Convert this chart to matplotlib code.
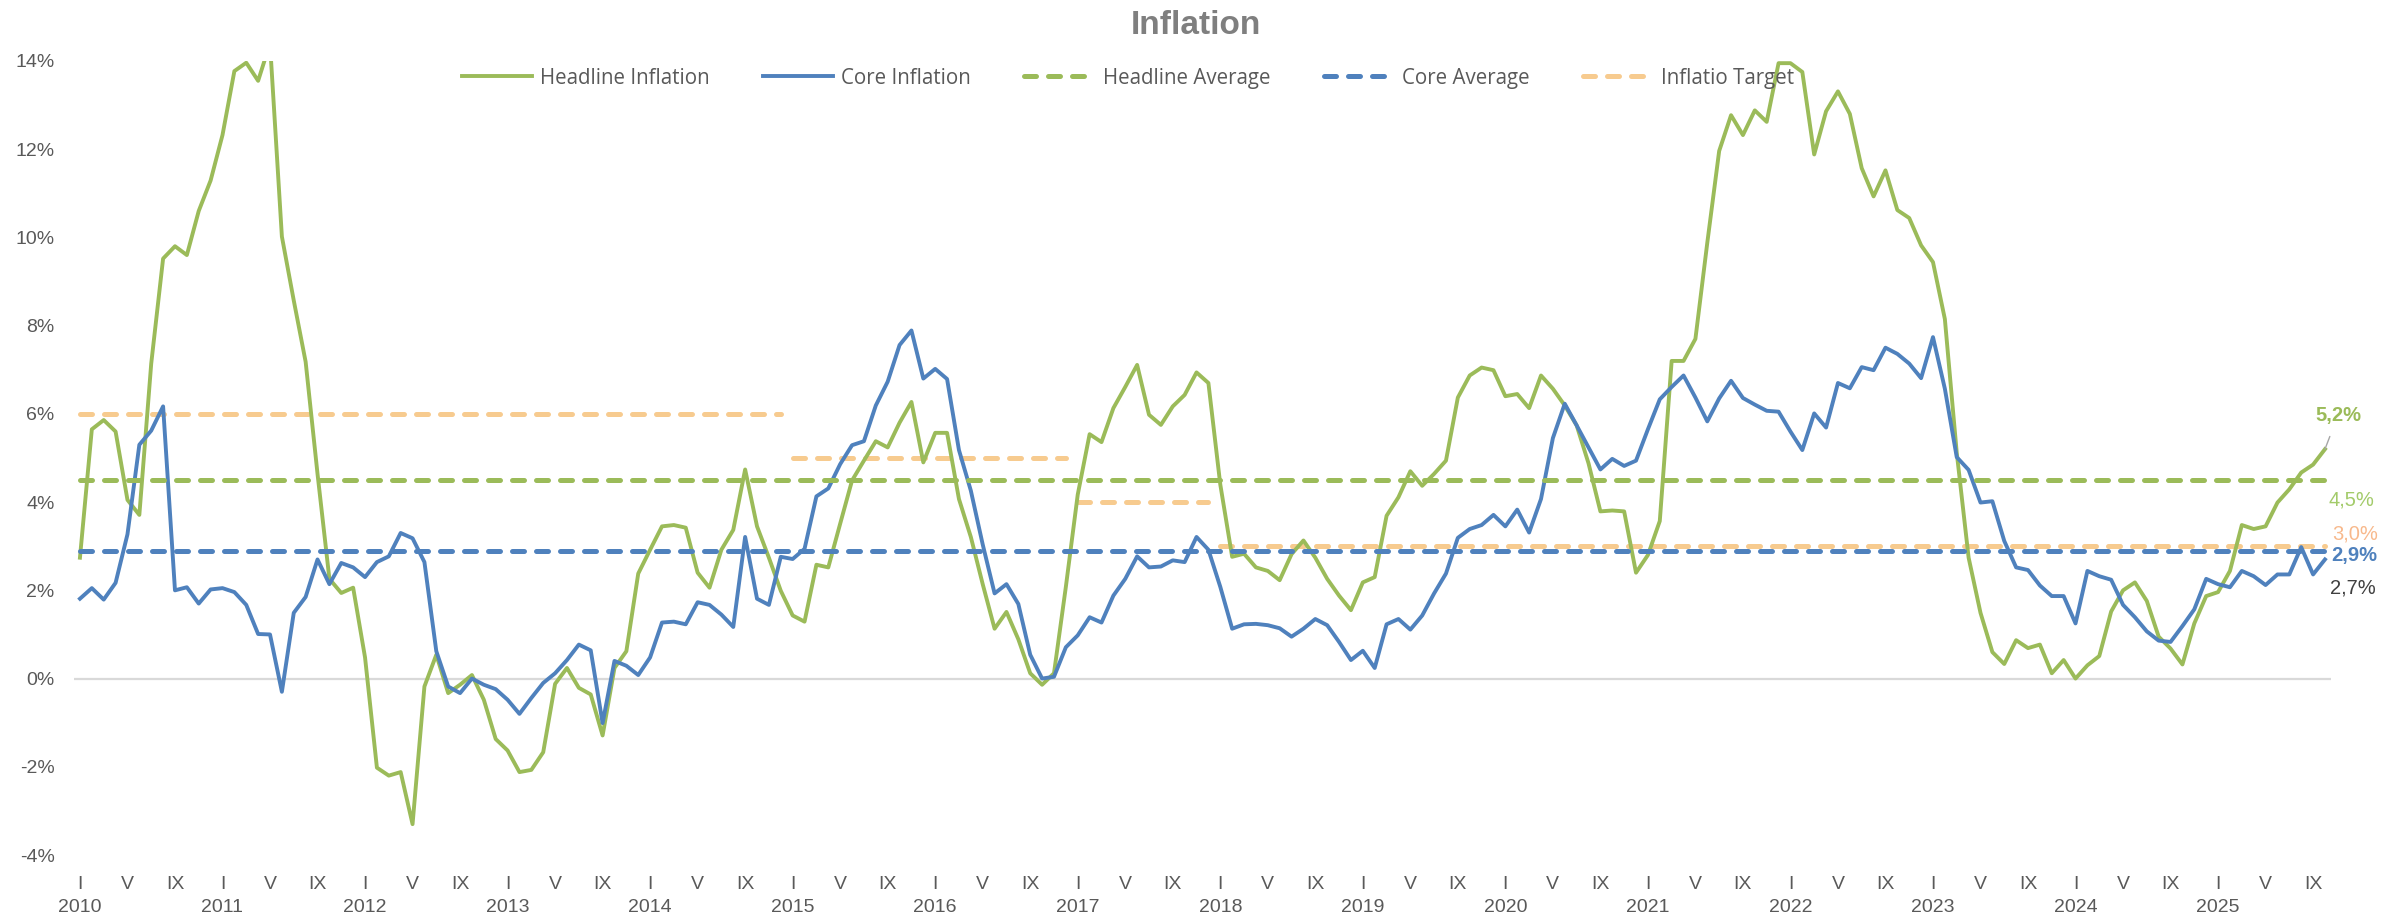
import numpy as np
import matplotlib.pyplot as plt

# monthly values, Jan 2010 .. Oct 2025 (%)
headline = [
    2.74, 5.65, 5.86, 5.60, 4.05, 3.71, 7.14, 9.52, 9.80, 9.60, 10.60, 11.29,   # 2010
    12.32, 13.77, 13.96, 13.55, 14.40, 10.02, 8.57, 7.18, 4.64, 2.26, 1.94, 2.06,  # 2011
    0.48, -2.02, -2.20, -2.12, -3.30, -0.18, 0.54, -0.33, -0.14, 0.08, -0.48, -1.37,  # 2012
    -1.63, -2.12, -2.07, -1.67, -0.12, 0.24, -0.21, -0.36, -1.29, 0.24, 0.62, 2.38,  # 2013
    2.92, 3.45, 3.48, 3.42, 2.40, 2.06, 2.92, 3.37, 4.74, 3.45, 2.74, 1.99,      # 2014
    1.43, 1.29, 2.58, 2.52, 3.51, 4.49, 4.94, 5.38, 5.24, 5.80, 6.27, 4.90,      # 2015
    5.57, 5.57, 4.07, 3.21, 2.14, 1.13, 1.51, 0.89, 0.12, -0.14, 0.12, 2.08,     # 2016
    4.17, 5.54, 5.36, 6.13, 6.61, 7.11, 5.98, 5.75, 6.17, 6.43, 6.94, 6.70,      # 2017
    4.40, 2.76, 2.83, 2.52, 2.44, 2.23, 2.82, 3.13, 2.74, 2.26, 1.88, 1.55,      # 2018
    2.18, 2.30, 3.69, 4.11, 4.70, 4.37, 4.64, 4.94, 6.37, 6.87, 7.05, 6.99,      # 2019
    6.40, 6.45, 6.13, 6.87, 6.57, 6.19, 5.74, 4.88, 3.79, 3.81, 3.79, 2.40,      # 2020
    2.80, 3.57, 7.20, 7.20, 7.70, 9.88, 11.96, 12.77, 12.32, 12.88, 12.62, 13.95,  # 2021
    13.95, 13.75, 11.88, 12.86, 13.31, 12.80, 11.57, 10.93, 11.52, 10.62, 10.44, 9.82,  # 2022
    9.44, 8.15, 5.12, 2.74, 1.49, 0.60, 0.33, 0.87, 0.69, 0.77, 0.12, 0.42,      # 2023
    0.00, 0.30, 0.51, 1.52, 2.00, 2.18, 1.76, 0.95, 0.68, 0.32, 1.25, 1.87,      # 2024
    1.96, 2.44, 3.48, 3.39, 3.45, 3.99, 4.29, 4.67, 4.85, 5.20,                  # 2025
]
core = [
    1.81, 2.05, 1.79, 2.17, 3.27, 5.30, 5.62, 6.17, 2.00, 2.07, 1.70, 2.02,      # 2010
    2.05, 1.96, 1.67, 1.01, 1.00, -0.30, 1.49, 1.85, 2.70, 2.14, 2.62, 2.52,     # 2011
    2.30, 2.64, 2.77, 3.30, 3.18, 2.64, 0.62, -0.18, -0.33, 0.00, -0.14, -0.24,  # 2012
    -0.48, -0.80, -0.44, -0.10, 0.12, 0.42, 0.77, 0.64, -1.01, 0.40, 0.29, 0.08,  # 2013
    0.48, 1.27, 1.29, 1.23, 1.73, 1.67, 1.45, 1.17, 3.21, 1.81, 1.67, 2.76,      # 2014
    2.71, 2.94, 4.13, 4.31, 4.86, 5.29, 5.38, 6.19, 6.73, 7.56, 7.89, 6.80,      # 2015
    7.02, 6.79, 5.18, 4.26, 3.04, 1.93, 2.14, 1.69, 0.54, 0.00, 0.04, 0.71,      # 2016
    0.98, 1.39, 1.27, 1.88, 2.26, 2.77, 2.52, 2.54, 2.68, 2.64, 3.21, 2.92,      # 2017
    2.08, 1.13, 1.23, 1.24, 1.21, 1.14, 0.95, 1.13, 1.35, 1.21, 0.83, 0.42,      # 2018
    0.63, 0.24, 1.23, 1.35, 1.11, 1.43, 1.93, 2.38, 3.19, 3.39, 3.48, 3.71,      # 2019
    3.45, 3.83, 3.31, 4.07, 5.45, 6.23, 5.74, 5.24, 4.74, 4.98, 4.82, 4.94,      # 2020
    5.65, 6.33, 6.61, 6.87, 6.37, 5.83, 6.35, 6.75, 6.36, 6.21, 6.07, 6.05,      # 2021
    5.60, 5.18, 6.01, 5.69, 6.70, 6.58, 7.06, 6.99, 7.50, 7.36, 7.14, 6.81,      # 2022
    7.74, 6.57, 5.02, 4.73, 3.99, 4.02, 3.12, 2.52, 2.46, 2.11, 1.87, 1.87,      # 2023
    1.25, 2.44, 2.32, 2.24, 1.67, 1.39, 1.07, 0.86, 0.83, 1.19, 1.57, 2.26,      # 2024
    2.14, 2.07, 2.44, 2.32, 2.12, 2.36, 2.36, 2.98, 2.36, 2.70,                  # 2025
]
years = list(range(2010, 2026))
target_by_year = [6, 6, 6, 6, 6, 5, 5, 4, 3, 3, 3, 3, 3, 3, 3, 3]
headline_avg = 4.5
core_avg = 2.9
month_marks = {0: "I", 4: "V", 8: "IX"}

GREEN = "#9BBB59"
BLUE = "#4F81BD"
ORANGE = "#F7CB8F"
GREY = "#595959"

n = len(headline)
x = np.arange(n)

fig = plt.figure(figsize=(24.03, 9.18), dpi=100)
ax = fig.add_axes([0.0308, 0.0686, 0.9392, 0.865])

ax.axhline(0, color="#D9D9D9", lw=1.6, zorder=1)

h1, = ax.plot(x, headline, color=GREEN, lw=2.8, label="Headline Inflation", zorder=3)
h2, = ax.plot(x, core, color=BLUE, lw=2.8, label="Core Inflation", zorder=3)

dash = dict(lw=3.6, dashes=(2.4, 2.4), dash_capstyle="round")
h3, = ax.plot([0, n - 1], [headline_avg, headline_avg], color=GREEN, label="Headline Average", zorder=4, **dash)

# target regimes, one segment each
monthly_target = np.repeat(target_by_year, 12)[:n]
start = 0
h5 = None
for i in range(1, n + 1):
    if i == n or monthly_target[i] != monthly_target[start]:
        ln, = ax.plot([start, i - 1], [monthly_target[start]] * 2, color=ORANGE,
                      label="Inflatio Target" if h5 is None else None, zorder=2, **dash)
        if h5 is None:
            h5 = ln
        start = i

h4, = ax.plot([0, n - 1], [core_avg, core_avg], color=BLUE, label="Core Average", zorder=4, **dash)

ax.set_xlim(-0.5, n - 0.5)
ax.set_ylim(-4, 14)
yt = list(range(-4, 15, 2))
ax.set_yticks(yt)
ax.set_yticklabels([f"{v}%" for v in yt])

# two-level category axis: roman months, then years
mpos, mlab = [], []
for k, yr in enumerate(years):
    for m, r in month_marks.items():
        p = k * 12 + m
        if p < n:
            mpos.append(p)
            mlab.append(r)
ax.set_xticks(mpos)
ax.set_xticklabels(mlab)
ax.set_xticks([k * 12 for k in range(len(years))], minor=True)
ax.set_xticklabels([str(y) for y in years], minor=True)
ax.xaxis.remove_overlapping_locs = False

for s in ax.spines.values():
    s.set_visible(False)
ax.tick_params(axis="both", which="both", length=0, colors=GREY, labelsize=14)
ax.tick_params(axis="x", which="major", pad=15)
ax.tick_params(axis="x", which="minor", pad=32)
ax.tick_params(axis="y", pad=14)
for t in ax.get_xticklabels(which="both") + ax.get_yticklabels():
    t.set_fontfamily(["Liberation Sans", "DejaVu Sans"])

fig.text(0.4977, 0.972, "Inflation", ha="center", va="center", fontsize=24,
         fontweight="bold", color="#7F7F7F", family=["Liberation Sans", "DejaVu Sans"])

fig.legend(handles=[h1, h2, h3, h4, h5], loc="center", bbox_to_anchor=(0.4694, 0.915),
           ncol=5, frameon=False, handlelength=3.4, handletextpad=0.4, columnspacing=2.6,
           prop={"family": ["Open Sans", "DejaVu Sans"], "size": 14.8}, labelcolor=GREY)

last = n - 1
lab_font = dict(fontsize=14.5, family=["Liberation Sans", "DejaVu Sans"], ha="center", va="center")
ax.annotate(f"{headline[-1]:.1f}%".replace(".", ","), xy=(last, headline[-1]), xytext=(9.4, 24.5),
            textcoords="offset points", color=GREEN, fontweight="bold",
            arrowprops=dict(arrowstyle="-", color="#A6A6A6", lw=1, shrinkA=7, shrinkB=0), **lab_font)
ax.annotate(f"{headline_avg:.1f}%".replace(".", ","), xy=(last, headline_avg), xytext=(19.4, -14.4),
            textcoords="offset points", color="#A3CB6A", **lab_font)
ax.annotate(f"{3.0:.1f}%".replace(".", ","), xy=(last, monthly_target[-1]), xytext=(21.6, 8.6),
            textcoords="offset points", color="#F8B98C", **lab_font)
ax.annotate(f"{core_avg:.1f}%".replace(".", ","), xy=(last, core_avg), xytext=(20.9, -3.8),
            textcoords="offset points", color=BLUE, fontweight="bold", **lab_font)
ax.annotate(f"{core[-1]:.1f}%".replace(".", ","), xy=(last, core[-1]), xytext=(20.2, -20.5),
            textcoords="offset points", color="#404040", **lab_font)

fig.savefig("out.png", dpi=100, facecolor="white")
